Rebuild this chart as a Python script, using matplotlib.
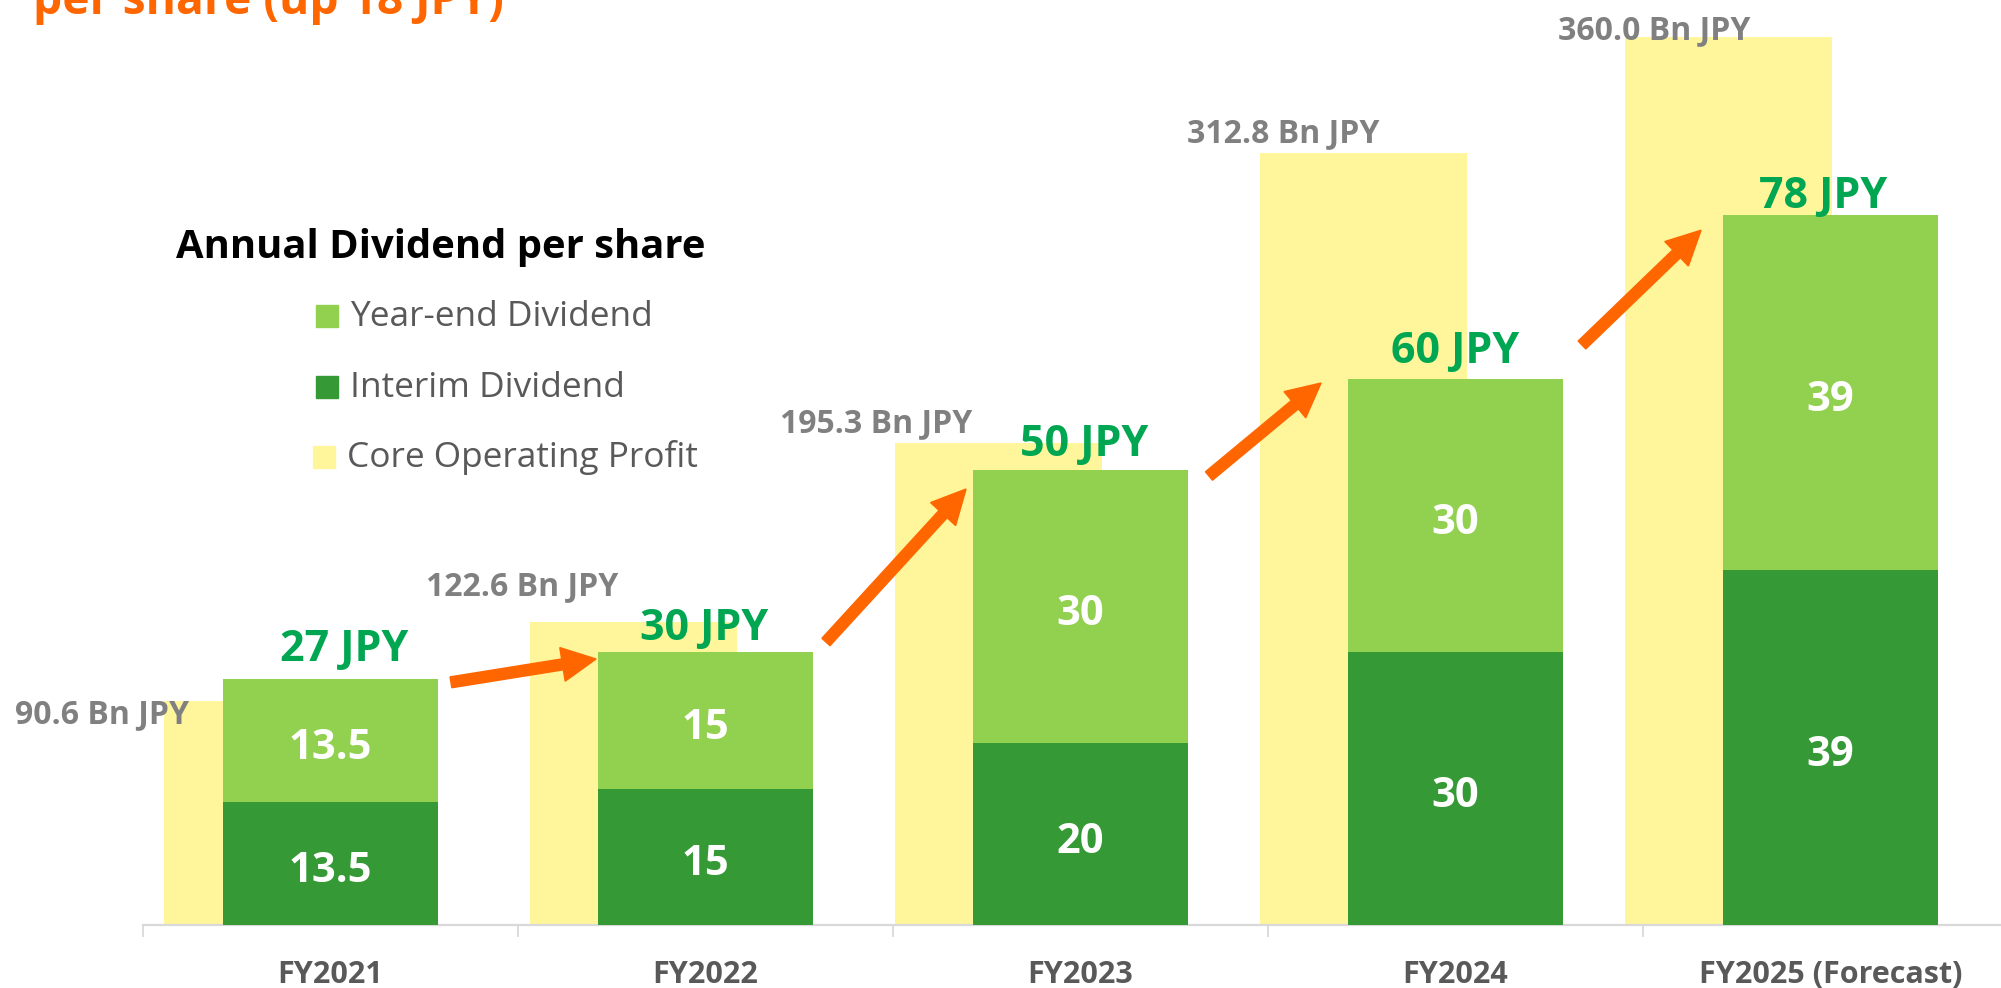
import matplotlib
matplotlib.use("Agg")
import matplotlib.pyplot as plt
from matplotlib.patches import FancyArrow, Rectangle
from matplotlib.transforms import IdentityTransform
import numpy as np

# ---------------- data ----------------
categories = ["FY2021", "FY2022", "FY2023", "FY2024", "FY2025 (Forecast)"]
interim_div = [13.5, 15, 20, 30, 39]
year_end_div = [13.5, 15, 30, 30, 39]
total_div = [27, 30, 50, 60, 78]
total_labels = ["27 JPY", "30 JPY", "50 JPY", "60 JPY", "78 JPY"]
core_profit = [90.6, 122.6, 195.3, 312.8, 360.0]
profit_labels = ["90.6 Bn JPY", "122.6 Bn JPY", "195.3 Bn JPY", "312.8 Bn JPY", "360.0 Bn JPY"]
interim_labels = ["13.5", "15", "20", "30", "39"]
year_end_labels = ["13.5", "15", "30", "30", "39"]

# ---------------- style ----------------
plt.rcParams['font.family'] = ['Open Sans', 'DejaVu Sans']
C_YELLOW = "#FFF59B"
C_LIGHT = "#92D050"
C_DARK = "#359A35"
C_TOTAL = "#00A651"
C_GRAY = "#808080"
C_CAT = "#595959"
C_ORANGE = "#FF6600"
C_AXIS = "#D9D9D9"

W, H = 2001, 988
fig = plt.figure(figsize=(W / 100, H / 100), dpi=100)

ax_p = fig.add_axes([143 / W, 63 / H, 1875 / W, 925 / H])
ax_d = ax_p.twinx()
ax_p.set_ylim(0, 925 / 2.468)
ax_d.set_ylim(0, 925 / 9.1)
for a in (ax_p, ax_d):
    a.set_xlim(-0.5, 4.5)
    for s in a.spines.values():
        s.set_visible(False)
    a.set_yticks([])
ax_p.spines['bottom'].set_visible(True)
ax_p.spines['bottom'].set_color(C_AXIS)
ax_p.spines['bottom'].set_linewidth(1.6)

idx = np.arange(len(categories))
# core operating profit (background)
yx = idx * 0.974 - 0.167
ybw = 0.552
ax_p.bar(yx, core_profit, width=ybw, color=C_YELLOW, zorder=1)

# dividends
gbw = 0.573
ax_d.bar(idx, interim_div, width=gbw, color=C_DARK, zorder=2)
ax_d.bar(idx, year_end_div, width=gbw, bottom=interim_div, color=C_LIGHT, zorder=2)

# x axis
ax_p.set_xticks(idx)
ax_p.set_xticklabels(categories, fontsize=22, fontweight='bold', color=C_CAT)
ax_p.tick_params(axis='x', which='major', length=0, pad=25)
ax_p.set_xticks(np.arange(-0.5, 5, 1), minor=True)
ax_p.tick_params(axis='x', which='minor', length=8.6, width=1.3, color=C_AXIS, direction='out')

# segment labels
for i in idx:
    ax_d.annotate(interim_labels[i], (i, interim_div[i] / 2), xytext=(0, -8), textcoords='offset pixels',
                  ha='center', va='center', fontsize=30, fontweight='bold', color='white', zorder=5)
    ax_d.annotate(year_end_labels[i], (i, interim_div[i] + year_end_div[i] / 2), xytext=(0, -8),
                  textcoords='offset pixels', ha='center', va='center',
                  fontsize=30, fontweight='bold', color='white', zorder=5)

# total labels (offset in pixels from bar top-centre)
tot_off = [(14, 18), (-1, 12), (4, 14), (0, 16), (-7, 7)]
for i in idx:
    ax_d.annotate(total_labels[i], (i, total_div[i]), xytext=tot_off[i], textcoords='offset pixels',
                  ha='center', va='baseline', fontsize=31, fontweight='bold', color=C_TOTAL, zorder=6)

# profit labels
prof_off = [(-166, -22), (-111, 27), (-122, 11), (-80, 11), (-75, -3)]
for i in idx:
    ax_p.annotate(profit_labels[i], (yx[i], core_profit[i]), xytext=prof_off[i], textcoords='offset pixels',
                  ha='center', va='baseline', fontsize=23, fontweight='bold', color=C_GRAY, zorder=6,
                  annotation_clip=False)

# arrows between dividend bars (offsets in image pixels: +x right, +y down)
fig.canvas.draw()
arrow_off = [((13, 3), (-2, 7)), ((13, -10), (-7, 19)), ((21, 6), (-27, 4)), ((19, -34), (-22, 15))]
for k in range(len(categories) - 1):
    tr = ax_d.transData.transform((k + gbw / 2, total_div[k]))
    tl = ax_d.transData.transform((k + 1 - gbw / 2, total_div[k + 1]))
    (tdx, tdy), (hdx, hdy) = arrow_off[k]
    x0, y0 = tr[0] + tdx, tr[1] - tdy
    x1, y1 = tl[0] + hdx, tl[1] - hdy
    arr = FancyArrow(x0, y0, x1 - x0, y1 - y0, width=11, head_width=34, head_length=34,
                     length_includes_head=True, color=C_ORANGE, transform=IdentityTransform(), zorder=10)
    fig.add_artist(arr)

# legend (manual)
fig.text(176 / W, 1 - 258 / H, "Annual Dividend per share", ha='left', va='baseline',
         fontsize=28.8, fontweight='bold', color='black')
leg = [("Year-end Dividend", C_LIGHT, 316, 350, 326),
       ("Interim Dividend", C_DARK, 316, 350, 397),
       ("Core Operating Profit", C_YELLOW, 313, 347, 467)]
for name, col, sx, tx, base in leg:
    fig.add_artist(Rectangle((sx / W, 1 - (base + 1) / H), 22 / W, 22 / H, color=col,
                             transform=fig.transFigure))
    fig.text(tx / W, 1 - base / H, name, ha='left', va='baseline', fontsize=25.4, color=C_CAT)

# partially visible orange heading
fig.text(33 / W, 1 - 14 / H, "per share (up 18 JPY)", ha='left', va='baseline',
         fontsize=33.2, fontweight='bold', color=C_ORANGE)

fig.savefig("out.png", dpi=100)
